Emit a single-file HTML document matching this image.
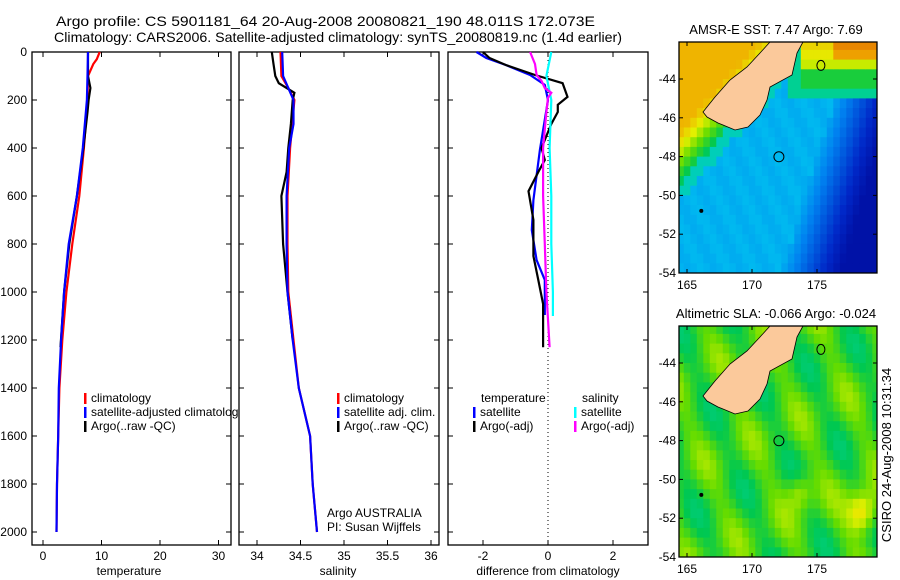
<!DOCTYPE html>
<html><head><meta charset="utf-8">
<style>
html,body{margin:0;padding:0;background:#fff;}
svg{display:block;font-family:"Liberation Sans",sans-serif;font-size:12px;}
</style></head>
<body>
<svg id="fig" width="900" height="580" viewBox="0 0 900 580" xmlns="http://www.w3.org/2000/svg">
<text x="56" y="26" font-size="14" textLength="539" lengthAdjust="spacingAndGlyphs">Argo profile: CS 5901181_64 20-Aug-2008 20080821_190 48.011S 172.073E</text>
<text x="54" y="42" font-size="14" textLength="568" lengthAdjust="spacingAndGlyphs">Climatology: CARS2006. Satellite-adjusted climatology: synTS_20080819.nc (1.4d earlier)</text>
<g id="plots"></g>
<text transform="translate(891,455) rotate(-90)" text-anchor="middle" font-size="13">CSIRO 24-Aug-2008 10:31:34</text>
</svg>
<script>
// ---------- data ----------
const tempClimDepth = [0,30,50,100,200,400,600,800,1000,1200,1400,1600,1800,2000];
const tempClim      = [9.7,9.2,8.6,7.7,7.6,7.0,6.2,5.0,4.0,3.3,2.8,2.6,2.4,2.3];
const tempSatDepth  = [0,100,200,400,600,800,1000,1200,1400,1600,1800,2000];
const tempSat       = [7.7,7.6,7.5,6.8,5.8,4.4,3.6,3.1,2.7,2.6,2.4,2.3];
const tempArgoDepth = [0,100,150,200,250,400,600,800,1000,1230];
const tempArgo      = [7.7,7.7,8.1,7.8,7.6,6.9,5.8,4.5,3.6,3.0];

const salClimDepth = [0,100,150,200,400,600,800,1000,1200,1400,1600,1800,2000];
const salClim      = [34.27,34.28,34.36,34.43,34.38,34.35,34.35,34.36,34.42,34.48,34.61,34.64,34.69];
const salSatDepth  = [0,100,200,300,400,600,800,1000,1200,1400,1600,1800,2000];
const salSat       = [34.29,34.30,34.42,34.42,34.37,34.34,34.34,34.35,34.41,34.48,34.61,34.64,34.69];
const salArgoDepth = [0,50,100,130,170,200,300,400,500,600,800,1000,1200];
const salArgo      = [34.17,34.19,34.21,34.25,34.43,34.41,34.39,34.36,34.34,34.28,34.30,34.35,34.41];

const dTsatDepth  = [0,25,54,96,137,200,408,617,742,867,950,1096];
const dTsat       = [-2.2,-1.9,-1.3,-0.55,-0.1,0.0,-0.25,-0.45,-0.5,-0.35,-0.1,-0.1];
const dTargoDepth = [0,25,54,96,130,187,220,250,300,400,450,500,580,700,850,950,1050,1230];
const dTargo      = [-2.0,-1.8,-1.3,-0.4,0.45,0.6,0.3,0.3,0.1,-0.2,-0.1,-0.3,-0.6,-0.45,-0.45,-0.3,-0.15,-0.15];
const dSsatDepth  = [0,100,200,400,600,800,1000,1100];
const dSsat       = [0.1,-0.05,0.1,0.05,0.1,0.1,0.15,0.15];
const dSargoDepth = [0,50,96,120,150,170,190,250,400,600,800,1000,1230];
const dSargo      = [-0.55,-0.4,-0.35,-0.2,-0.1,0.1,0.0,-0.05,-0.15,-0.15,-0.1,-0.05,0.05];

const tempTicks = [0,10,20,30];
const salTicks = [34,34.5,35,35.5,36];
const diffTicks = [-2,0,2];
const depthTicks = [0,200,400,600,800,1000,1200,1400,1600,1800,2000];
const latTicks = [-44,-46,-48,-50,-52,-54];
const lonTicks = [165,170,175];

// ---------- helpers ----------
const NS="http://www.w3.org/2000/svg";
const root=document.getElementById('plots');
function mk(tag,attrs,parent){const e=document.createElementNS(NS,tag);for(const k in attrs)e.setAttribute(k,attrs[k]);(parent||root).appendChild(e);return e;}
const top0=52, bot=545;
const yD = d => top0 + d*0.24;

function panel(name,x0,x1,xs,ticks,label,labelX,showDepth){
  const g=mk('g',{});
  
  
  const r=mk('rect',{x:x0,y:top0,width:x1-x0,height:bot-top0,fill:'#fff',stroke:'#000','stroke-width':1.3},g);
  
  
  ticks.forEach(t=>{
    const x=xs(t);
    mk('line',{x1:x,x2:x,y1:bot,y2:bot-5,stroke:'#000'},g);
    mk('line',{x1:x,x2:x,y1:top0,y2:top0+5,stroke:'#000'},g);
    const tl=mk('text',{x:x,y:bot+15,'text-anchor':'middle'},g);tl.textContent=t;
    
    
  });
  depthTicks.forEach(d=>{
    const y=yD(d);
    mk('line',{x1:x0,x2:x0+5,y1:y,y2:y,stroke:'#000'},g);
    mk('line',{x1:x1,x2:x1-5,y1:y,y2:y,stroke:'#000'},g);
    if(showDepth){const tl=mk('text',{x:27,y:y+4,'text-anchor':'end'},g);tl.textContent=d;
      
      }
  });
  const lb=mk('text',{x:labelX,y:575,'text-anchor':'middle'},g);lb.textContent=label;
  
  
  return g;
}
function series(g,name,xs,depths,vals,color){
  let d='';
  depths.forEach((dep,i)=>{d+=(i?'L':'M')+xs(vals[i]).toFixed(1)+','+yD(dep).toFixed(1);});
  const p=mk('path',{d:d,fill:'none',stroke:color,'stroke-width':2.2},g);
  
  
}
function legend(g,name,x,y,color,text){
  mk('rect',{x:x,y:y-9,width:2.5,height:11,fill:color},g);
  const t=mk('text',{x:x+7,y:y},g);t.textContent=text;
  
  
}

// temperature panel
const xT=v=>43+v*5.85;
let g1=panel('temperature',32,231,xT,tempTicks,'temperature',129,true);
series(g1,'temp-climatology-line',xT,tempClimDepth,tempClim,'#ff0000');
series(g1,'temp-argo-line',xT,tempArgoDepth,tempArgo,'#000');
series(g1,'temp-satellite-line',xT,tempSatDepth,tempSat,'#0000ff');
legend(g1,'legend-climatology',84,402,'#ff0000','climatology');
legend(g1,'legend-satellite-adjusted',84,416,'#0000ff','satellite-adjusted climatology');
legend(g1,'legend-argo-raw',84,430,'#000','Argo(..raw -QC)');

// salinity panel
const xS=v=>257+(v-34)*87;
let g2=panel('salinity',239,439,xS,salTicks,'salinity',338,false);
series(g2,'sal-climatology-line',xS,salClimDepth,salClim,'#ff0000');
series(g2,'sal-argo-line',xS,salArgoDepth,salArgo,'#000');
series(g2,'sal-satellite-line',xS,salSatDepth,salSat,'#0000ff');
legend(g2,'legend-sal-climatology',337,402,'#ff0000','climatology');
legend(g2,'legend-sal-satellite',337,416,'#0000ff','satellite adj. clim.');
legend(g2,'legend-sal-argo',337,430,'#000','Argo(..raw -QC)');
let t1=mk('text',{x:327,y:517},g2);t1.textContent='Argo AUSTRALIA';


let t2=mk('text',{x:327,y:531},g2);t2.textContent='PI: Susan Wijffels';



// difference panel
const xDf=v=>548+v*32.5;
let g3=panel('difference',448,648,xDf,diffTicks,'difference from climatology',548,false);
mk('line',{x1:548,x2:548,y1:top0,y2:bot,stroke:'#000','stroke-dasharray':'1,3'},g3);
series(g3,'diff-temp-satellite-line',xDf,dTsatDepth,dTsat,'#0000ff');
series(g3,'diff-temp-argo-line',xDf,dTargoDepth,dTargo,'#000');
series(g3,'diff-sal-satellite-line',xDf,dSsatDepth,dSsat,'#00ffff');
series(g3,'diff-sal-argo-line',xDf,dSargoDepth,dSargo,'#ff00ff');
let lt=mk('text',{x:481,y:402},g3);lt.textContent='temperature';


let ls=mk('text',{x:582,y:402},g3);ls.textContent='salinity';


legend(g3,'legend-diff-temp-satellite',473,416,'#0000ff','satellite');
legend(g3,'legend-diff-temp-argo',473,430,'#000','Argo(-adj)');
legend(g3,'legend-diff-sal-satellite',574,416,'#00ffff','satellite');
legend(g3,'legend-diff-sal-argo',574,430,'#ff00ff','Argo(-adj)');

// ---------- maps ----------
const cmapStops=[[0,0,0,140],[0.15,0,40,200],[0.3,0,130,240],[0.4,0,190,240],[0.5,0,210,170],[0.58,0,200,80],[0.66,100,220,0],[0.74,230,240,0],[0.84,240,170,0],[0.93,220,90,0],[1,180,40,0]];
function cmap(t){t=Math.max(0,Math.min(1,t));
  for(let i=1;i<cmapStops.length;i++){const a=cmapStops[i-1],b=cmapStops[i];
    if(t<=b[0]){const f=(t-a[0])/(b[0]-a[0]);
      return 'rgb('+Math.round(a[1]+f*(b[1]-a[1]))+','+Math.round(a[2]+f*(b[2]-a[2]))+','+Math.round(a[3]+f*(b[3]-a[3]))+')';}}
  return 'rgb(180,40,0)';}
function sstField(lon,lat){
  let t=0.38+0.012*Math.sin(lon*3.1+lat*2.3);
  const s=(lat+49)-(lon-165)*0.75;
  if(s>0)t=0.56+Math.min(s,2.8)*0.095;
  else if(s>-0.8)t=0.48;
  const se=(lon-175)+(-lat-48)*0.45;
  if(se>0)t=0.36-Math.min(se,4.5)*0.065;
  if(lat>-43.6&&lon>173.5)t=0.7+(lat+43.6)*0.06+(lon>176&&lat>-42.8?0.1:0);
  else if(lat>-44.4&&lon>173.5)t=0.6;
  else if(lat>-45&&lon>172.5)t=0.52;
  return t;}
function slaField(lon,lat){
  let t=0.625+0.05*Math.sin((lon*0.9+lat*0.55)*1.6)+0.025*Math.sin(lat*1.3-lon*0.4);
  const dx=lon-178.5,dy=lat+51.7;t+=0.18*Math.exp(-(dx*dx+dy*dy)/1.2);
  const ex=lon-173.7,ey=lat+50.7;t+=0.1*Math.exp(-(ex*ex+ey*ey)/0.8);
  return t;}
function map(name,top,field,title){
  const L=679,R=877,B=top+231;
  const xL=lon=>687+(lon-165)*13, yL=lat=>top+37+(-44-lat)*19.4;
  const g=mk('g',{});
  
  
  for(let lon=164.25;lon<180;lon+=0.5)for(let lat=-42;lat>-54.5;lat-=0.5){
    const x=Math.max(L,xL(lon)),y=Math.max(top,yL(lat));
    const w=Math.min(R,xL(lon+0.5))-x,h=Math.min(B,yL(lat-0.5))-y;
    if(w>0&&h>0)mk('rect',{x:x.toFixed(1),y:y.toFixed(1),width:(w+0.4).toFixed(1),height:(h+0.4).toFixed(1),fill:cmap(field(lon+0.25,lat-0.25))},g);
  }
  const off=top-42;
  const pts=[[770,42],[803,42],[797,53],[792,75],[770,87],[767,100],[760,115],[748,127],[735,130],[723,125],[718,123],[707,117],[703,112],[715,97],[730,80],[747,67],[760,53]];
  const land=mk('polygon',{points:pts.map(p=>p[0]+','+(p[1]+off)).join(' '),fill:'#fbc99b',stroke:'#000','stroke-width':0.8},g);
  
  
  const pos=mk('circle',{cx:xL(172.07),cy:yL(-48.01),r:5,fill:'none',stroke:'#000'},g);
  
  
  mk('ellipse',{cx:xL(175.3),cy:yL(-43.3),rx:4,ry:5,fill:'none',stroke:'#000'},g);
  mk('circle',{cx:xL(166.1),cy:yL(-50.8),r:2,fill:'#000'},g);
  mk('rect',{x:L,y:top,width:R-L,height:B-top,fill:'none',stroke:'#000','stroke-width':1.3},g);
  latTicks.forEach(la=>{const y=yL(la);mk('line',{x1:L,x2:L+4,y1:y,y2:y,stroke:'#000'},g);mk('line',{x1:R,x2:R-4,y1:y,y2:y,stroke:'#000'},g);
    const t=mk('text',{x:676,y:y+4,'text-anchor':'end'},g);t.textContent=la;
    
    });
  lonTicks.forEach(lo=>{const x=xL(lo);mk('line',{x1:x,x2:x,y1:B,y2:B-4,stroke:'#000'},g);mk('line',{x1:x,x2:x,y1:top,y2:top+4,stroke:'#000'},g);
    const t=mk('text',{x:x,y:B+16,'text-anchor':'middle'},g);t.textContent=lo;
    
    });
  const tt=mk('text',{x:776,y:top-8,'text-anchor':'middle','font-size':13},g);tt.textContent=title;
  
  
}
map('sst-map',42,sstField,'AMSR-E SST: 7.47 Argo: 7.69');
map('sla-map',326,slaField,'Altimetric SLA: -0.066 Argo: -0.024');
</script>
</body></html>
